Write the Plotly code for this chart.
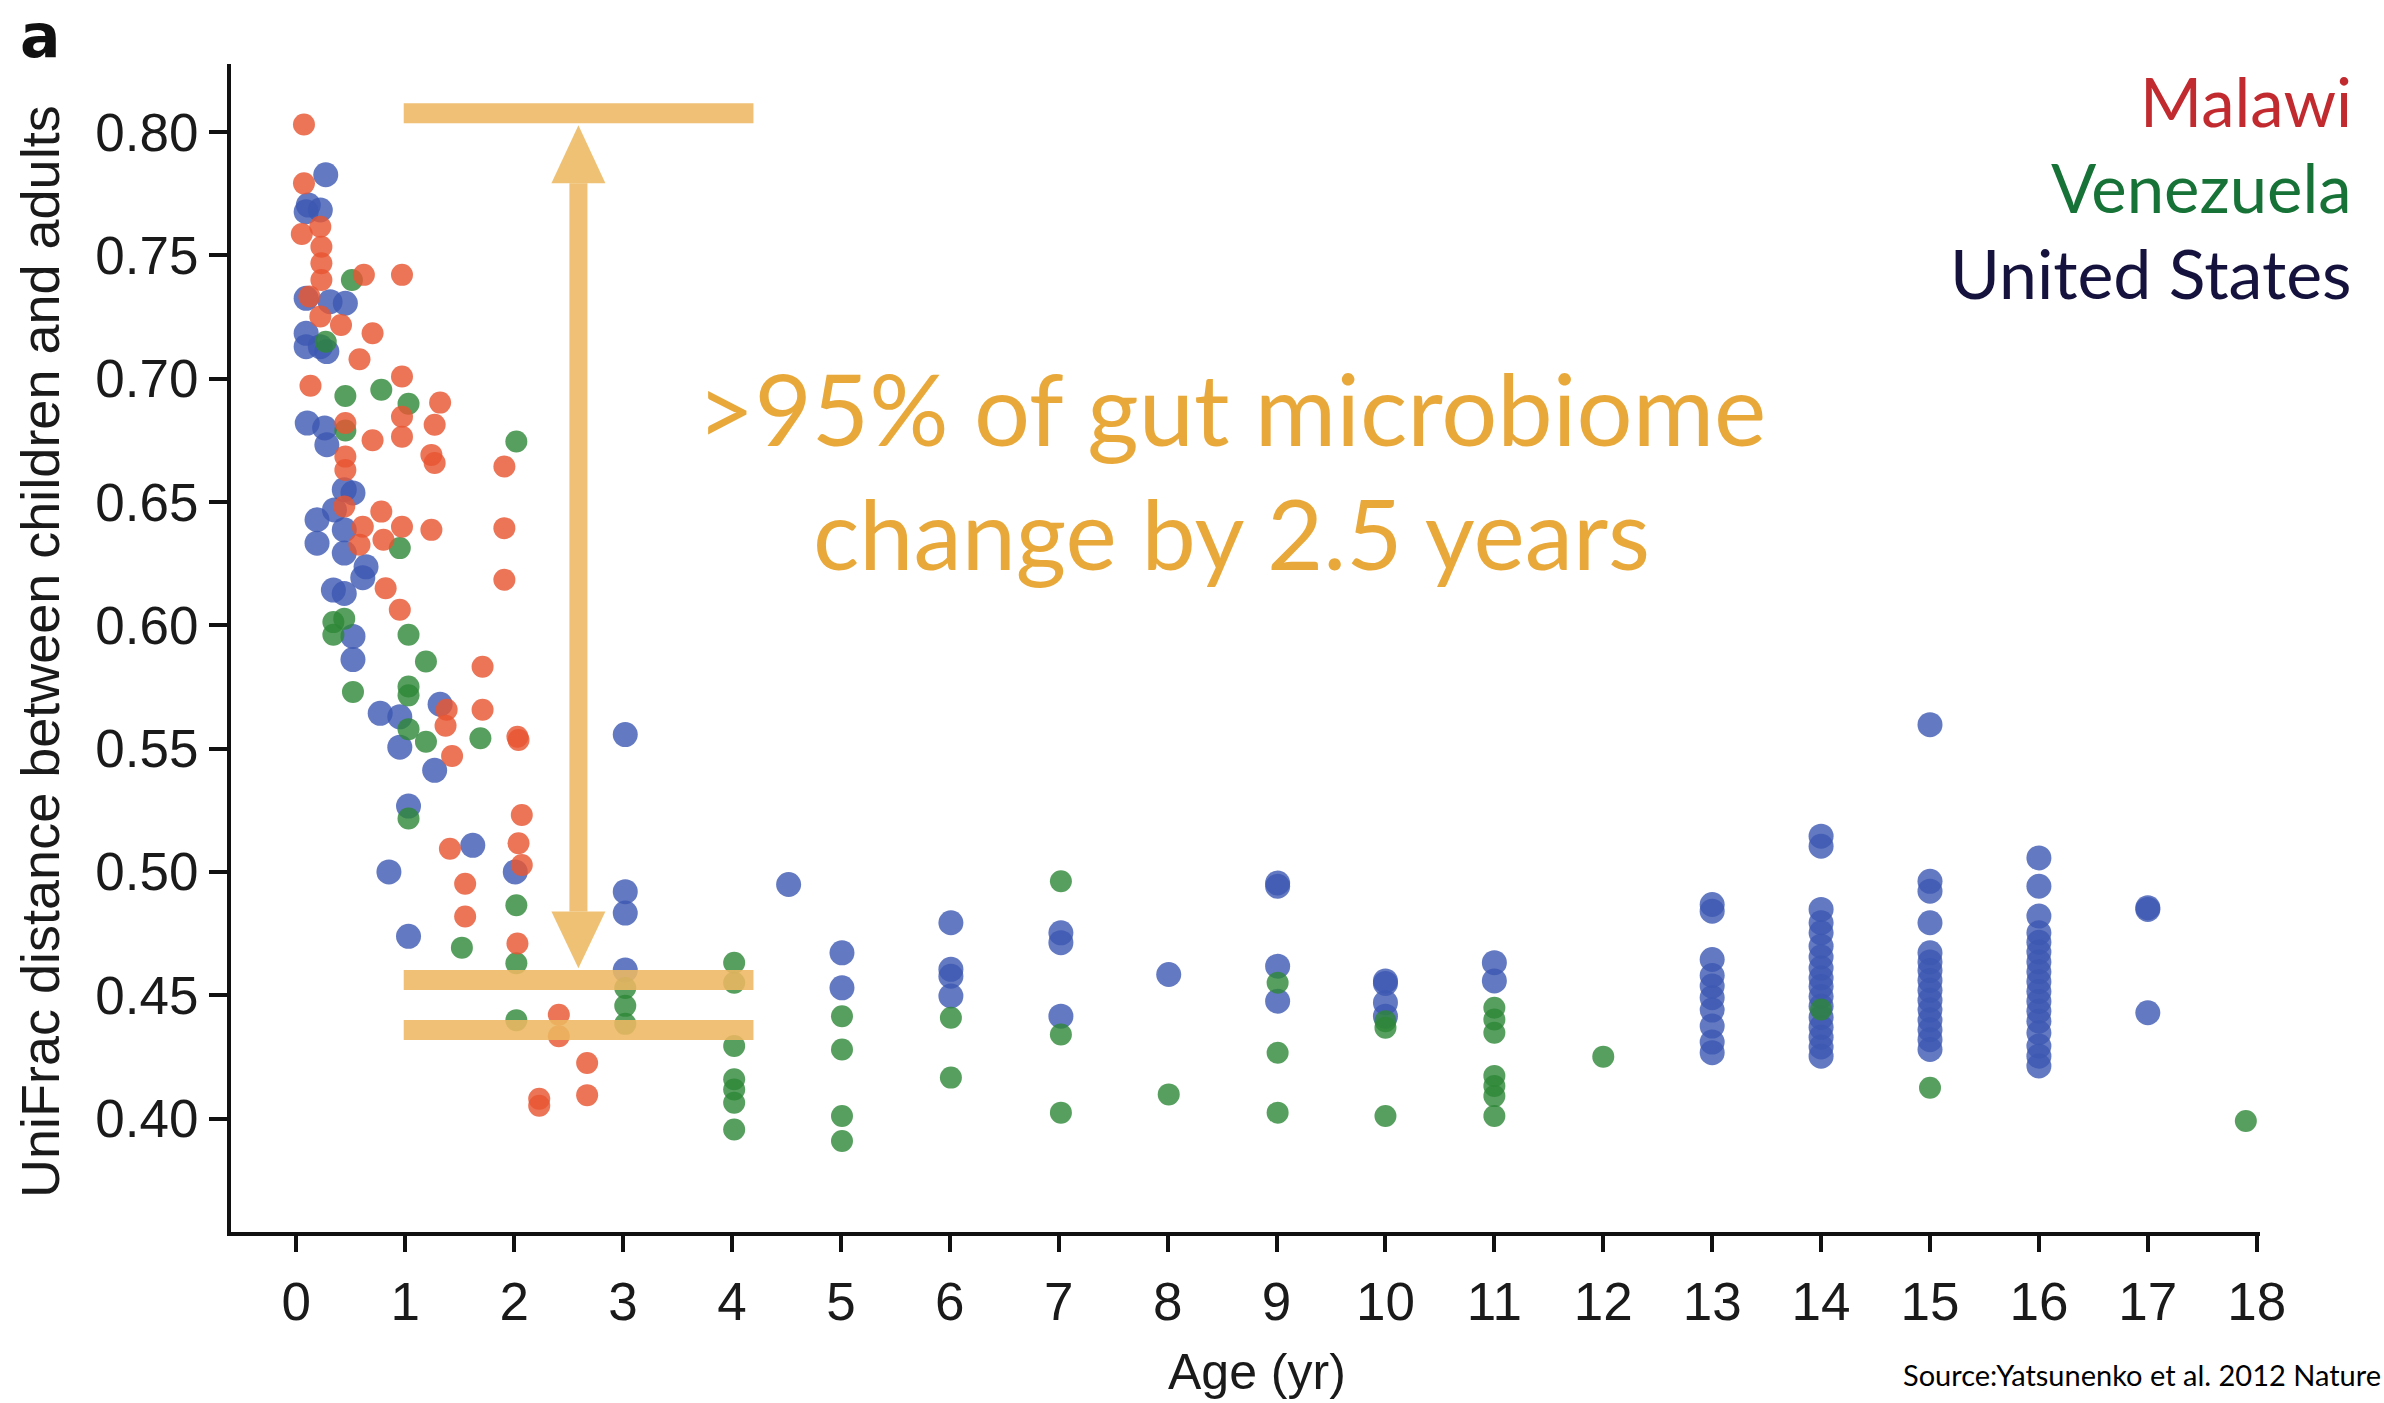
import plotly.graph_objects as go

# ---------------- data: age (yr) vs UniFrac distance ----------------
malawi_age = [0.07, 0.07, 0.05, 0.22, 0.23, 0.23, 0.23, 0.62, 0.97, 0.12, 0.22, 0.41, 0.70, 0.58,
              0.13, 0.97, 1.32, 0.97, 1.27, 0.45, 0.70, 0.97, 1.24, 1.27, 1.91, 0.45, 0.45, 0.44,
              0.78, 0.61, 0.58, 0.80, 0.97, 1.24, 1.91, 1.91,
              0.82, 0.95, 1.71, 1.38, 1.71, 1.37, 2.04, 2.03, 1.43, 2.07, 1.41, 2.04, 2.07, 1.55,
              1.55, 2.03, 2.41, 2.41, 2.67, 2.23, 2.23, 2.67]
malawi_dist = [0.8031, 0.7792, 0.7587, 0.7616, 0.7535, 0.7468, 0.7400, 0.7421, 0.7421, 0.7333,
               0.7252, 0.7218, 0.7184, 0.7079, 0.6971, 0.7009, 0.6903, 0.6846, 0.6813, 0.6820,
               0.6750, 0.6765, 0.6691, 0.6658, 0.6644, 0.6684, 0.6630, 0.6482, 0.6461, 0.6400,
               0.6327, 0.6347, 0.6400, 0.6387, 0.6394, 0.6185,
               0.6150, 0.6063, 0.5832, 0.5658, 0.5658, 0.5593, 0.5535, 0.5548, 0.5470, 0.5231,
               0.5094, 0.5116, 0.5028, 0.4952, 0.4819, 0.4710, 0.4421, 0.4334, 0.4225, 0.4052,
               0.4080, 0.4095]

venezuela_age = [0.51, 0.27, 0.45, 0.78, 1.03, 0.45, 2.02, 0.95,
                 0.34, 0.34, 0.44, 1.03, 1.19, 0.52, 1.03, 1.03, 1.03, 1.19, 1.69, 1.03, 2.02,
                 1.52, 2.02, 3.02, 3.02, 3.02, 2.02,
                 4.02, 4.02, 4.02, 4.02, 4.02, 4.02, 4.02,
                 5.01, 5.01, 5.01, 5.01,
                 6.01, 6.01,
                 7.02, 7.02, 7.02,
                 8.01,
                 9.01, 9.01, 9.01,
                 10.0, 10.0, 10.0,
                 11.0, 11.0, 11.0, 11.0, 11.0, 11.0, 11.0,
                 12.0, 14.0, 15.0, 17.9]
venezuela_dist = [0.7400, 0.7150, 0.6930, 0.6955, 0.6898, 0.6790, 0.6745, 0.6313,
                  0.6013, 0.5962, 0.6027, 0.5962, 0.5853, 0.5730, 0.5752, 0.5716, 0.5579, 0.5528,
                  0.5542, 0.5217, 0.4865, 0.4693, 0.4630, 0.4529, 0.4457, 0.4384, 0.4399,
                  0.4632, 0.4551, 0.4294, 0.4159, 0.4118, 0.4064, 0.3956,
                  0.4415, 0.4280, 0.4010, 0.3909,
                  0.4409, 0.4166,
                  0.4962, 0.4341, 0.4024,
                  0.4098,
                  0.4551, 0.4267, 0.4024,
                  0.4368, 0.4395, 0.4010,
                  0.4449, 0.4402, 0.4348, 0.4173, 0.4132, 0.4091, 0.4010,
                  0.4251, 0.4442, 0.4125, 0.3990]

us_age = [0.27, 0.11, 0.22, 0.09, 0.09, 0.31, 0.45, 0.09, 0.09, 0.28, 0.22, 0.10, 0.26, 0.28,
          0.19, 0.19, 0.44, 0.52, 0.35, 0.44, 0.44,
          0.64, 0.61, 0.34, 0.44, 0.52, 0.52, 0.77, 0.95, 1.32, 0.95, 1.27, 3.02, 1.03, 1.62,
          2.01, 0.85, 1.03, 3.02, 3.02, 3.02,
          4.52, 5.01, 5.01, 6.01, 6.01, 6.01, 6.01, 7.02, 7.02, 7.02, 8.01,
          9.01, 9.01, 9.01, 9.01, 10.0, 10.0, 10.0, 10.0, 11.0, 11.0,
          13.0, 13.0, 13.0, 13.0, 13.0, 13.0, 13.0, 13.0, 13.0, 13.0,
          14.0, 14.0, 14.0, 14.0, 14.0, 14.0, 14.0, 14.0, 14.0, 14.0, 14.0, 14.0, 14.0, 14.0,
          14.0, 14.0, 14.0,
          15.0, 15.0, 15.0, 15.0, 15.0, 15.0, 15.0, 15.0, 15.0, 15.0, 15.0, 15.0, 15.0, 15.0,
          15.0,
          16.0, 16.0, 16.0, 16.0, 16.0, 16.0, 16.0, 16.0, 16.0, 16.0, 16.0, 16.0, 16.0, 16.0,
          16.0, 16.0, 16.0,
          17.0, 17.0, 17.0]
us_dist = [0.7827, 0.7704, 0.7684, 0.7677, 0.7326, 0.7312, 0.7306, 0.7184, 0.7130, 0.7110,
           0.7130, 0.6820, 0.6800, 0.6732, 0.6428, 0.6333, 0.6550, 0.6537, 0.6468, 0.6387,
           0.6293,
           0.6237, 0.6193, 0.6143, 0.6129, 0.5955, 0.5861, 0.5643, 0.5629, 0.5680, 0.5506,
           0.5412, 0.5557, 0.5267, 0.5108, 0.5000, 0.5000, 0.4739, 0.4920, 0.4833, 0.4602,
           0.4949, 0.4672, 0.4530, 0.4794, 0.4605, 0.4577, 0.4497, 0.4753, 0.4713, 0.4415,
           0.4584,
           0.4942, 0.4955, 0.4618, 0.4476, 0.4558, 0.4548, 0.4470, 0.4415, 0.4632, 0.4558,
           0.4868, 0.4841, 0.4645, 0.4580, 0.4537, 0.4490, 0.4440, 0.4375, 0.4310, 0.4267,
           0.5145, 0.5104, 0.4848, 0.4794, 0.4753, 0.4699, 0.4655, 0.4610, 0.4570, 0.4535,
           0.4495, 0.4455, 0.4410, 0.4370, 0.4330, 0.4290, 0.4253,
           0.5597, 0.4962, 0.4922, 0.4794, 0.4672, 0.4635, 0.4600, 0.4560, 0.4520, 0.4480,
           0.4440, 0.4400, 0.4360, 0.4320, 0.4280,
           0.5057, 0.4942, 0.4821, 0.4753, 0.4715, 0.4675, 0.4635, 0.4595, 0.4555, 0.4515,
           0.4475, 0.4435, 0.4395, 0.4348, 0.4294, 0.4253, 0.4213,
           0.4848, 0.4855, 0.4429]

age_ticks = list(range(0, 19))
dist_ticks = [0.40, 0.45, 0.50, 0.55, 0.60, 0.65, 0.70, 0.75, 0.80]
dist_tick_text = ["%.2f" % v for v in dist_ticks]

# bracket annotation levels
bracket_top = 0.8076
bracket_mid = 0.4562
bracket_low = 0.4359
bracket_x = [0.986, 4.197]
arrow_x = 2.59
arrow_tip_top = 0.8028
arrow_base_top = 0.7792
arrow_tip_bottom = 0.4609
arrow_base_bottom = 0.4840
arrow_half_w = 0.248

# ---------------- layout geometry (pixels) ----------------
W, H = 2384, 1403
L, R, T, B = 231, 2260, 64, 1232


def px(xp):
    return (xp - L) / (R - L)


def py(yp):
    return (B - yp) / (B - T)


ORANGE_BAR = "#EDB862"
ORANGE_TXT = "#E9A83A"
SANS = "Liberation Sans, Arial, sans-serif"
TICK_FONT = dict(family=SANS, size=53, color="#1a1a1a")

fig = go.Figure()

series = [
    ("United States", us_age, us_dist, "rgba(60,88,178,0.80)", 25),
    ("Venezuela", venezuela_age, venezuela_dist, "rgba(45,135,55,0.80)", 22),
    ("Malawi", malawi_age, malawi_dist, "rgba(232,86,50,0.82)", 22),
]
for name, xs, ys, col, sz in series:
    fig.add_trace(go.Scatter(
        x=xs, y=ys, mode="markers", name=name,
        marker=dict(color=col, size=sz, line=dict(width=0)),
        cliponaxis=False, showlegend=False,
    ))

shapes = []
for lvl in (bracket_top, bracket_mid, bracket_low):
    shapes.append(dict(type="line", xref="x", yref="y", x0=bracket_x[0], x1=bracket_x[1],
                       y0=lvl, y1=lvl, line=dict(color=ORANGE_BAR, width=20), opacity=0.88,
                       layer="above"))
shapes.append(dict(type="line", xref="x", yref="y", x0=arrow_x, x1=arrow_x,
                   y0=arrow_base_bottom, y1=arrow_base_top,
                   line=dict(color=ORANGE_BAR, width=18), opacity=0.88, layer="above"))
for tip, base in ((arrow_tip_top, arrow_base_top), (arrow_tip_bottom, arrow_base_bottom)):
    shapes.append(dict(type="path", xref="x", yref="y",
                       path="M %f,%f L %f,%f L %f,%f Z" % (arrow_x - arrow_half_w, base,
                                                          arrow_x, tip,
                                                          arrow_x + arrow_half_w, base),
                       fillcolor=ORANGE_BAR, line=dict(width=0), opacity=0.88, layer="above"))

annotations = [
    dict(text=">95% of gut microbiome", x=px(1231), y=py(408), xref="paper", yref="paper",
         xanchor="center", yanchor="middle", showarrow=False,
         font=dict(family="Lato, sans-serif", size=99, color=ORANGE_TXT)),
    dict(text="change by 2.5 years", x=px(1231), y=py(532), xref="paper", yref="paper",
         xanchor="center", yanchor="middle", showarrow=False,
         font=dict(family="Lato, sans-serif", size=97, color=ORANGE_TXT)),
    dict(text="Malawi", x=px(2354), y=py(101), xref="paper", yref="paper",
         xanchor="right", yanchor="middle", showarrow=False,
         font=dict(family="Lato, sans-serif", size=67, color="#C12A2E")),
    dict(text="Venezuela", x=px(2354), y=py(187), xref="paper", yref="paper",
         xanchor="right", yanchor="middle", showarrow=False,
         font=dict(family="Lato, sans-serif", size=67, color="#167236")),
    dict(text="United States", x=px(2354), y=py(272), xref="paper", yref="paper",
         xanchor="right", yanchor="middle", showarrow=False,
         font=dict(family="Lato, sans-serif", size=68, color="#15133D")),
    dict(text="Source:Yatsunenko et al. 2012 Nature", x=px(1901), y=py(1374), xref="paper",
         yref="paper", xanchor="left", yanchor="middle", showarrow=False,
         font=dict(family="Lato, sans-serif", size=29, color="#000000")),
    dict(text="<b>a</b>", x=px(40), y=py(0), xref="paper", yref="paper",
         xanchor="center", yanchor="top", showarrow=False, borderpad=0,
         font=dict(family="DejaVu Sans, sans-serif", size=60, color="#111111")),
    dict(text="UniFrac distance between children and adults", x=px(40), y=py(652),
         xref="paper", yref="paper", xanchor="center", yanchor="middle", textangle=-90,
         showarrow=False, font=dict(family=SANS, size=54, color="#1a1a1a")),
    dict(text="Age (yr)", x=px(1257), y=py(1372), xref="paper", yref="paper",
         xanchor="center", yanchor="middle", showarrow=False,
         font=dict(family=SANS, size=50, color="#1a1a1a")),
]

fig.update_layout(
    width=W, height=H,
    margin=dict(l=L, r=W - R, t=T, b=H - B, pad=0),
    paper_bgcolor="white", plot_bgcolor="white",
    shapes=shapes, annotations=annotations,
    xaxis=dict(range=[-0.6, 18.03], tickmode="array", tickvals=age_ticks,
               ticktext=[str(a) for a in age_ticks], ticks="outside", ticklen=16, tickwidth=4,
               tickcolor="#111111", showline=True, linewidth=4, linecolor="#111111",
               showgrid=False, zeroline=False, tickfont=TICK_FONT, ticklabelstandoff=4),
    yaxis=dict(range=[0.354, 0.8276], tickmode="array", tickvals=dist_ticks,
               ticktext=dist_tick_text, ticks="outside", ticklen=18, tickwidth=4,
               tickcolor="#111111", showline=True, linewidth=4, linecolor="#111111",
               showgrid=False, zeroline=False, tickfont=TICK_FONT, ticklabelstandoff=0),
)

fig.write_html("out.html")
